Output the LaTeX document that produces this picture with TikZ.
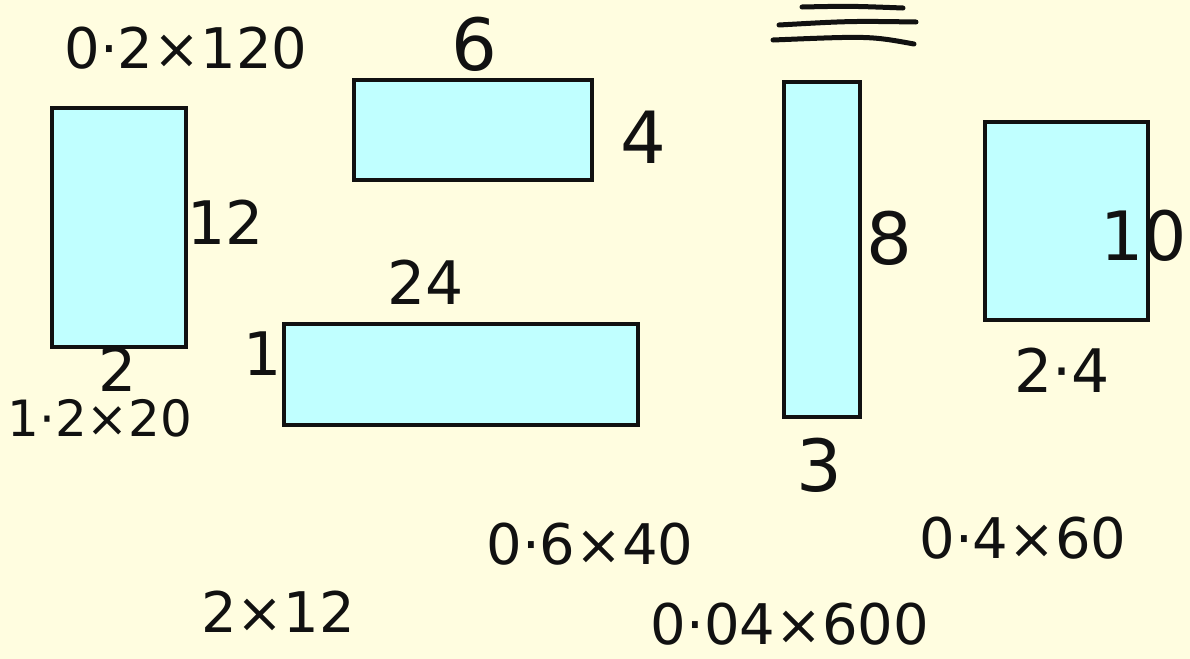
\documentclass[tikz,border=0pt]{standalone}
\usepackage{fontspec}
\setmainfont{DejaVu Sans}
\usepackage{tikz}
\usetikzlibrary{positioning}
\usepackage{xcolor}
\definecolor{paperyellow}{HTML}{FFFDE0}
\definecolor{sheetcyan}{HTML}{C0FFFF}
\definecolor{inkblack}{HTML}{111111}
\tikzset{
  panel/.style={draw=inkblack, line width=1.75pt, fill=sheetcyan, inner sep=0pt},
  side/.style={text=inkblack, inner sep=0pt, font=\fontsize{30}{32}\selectfont},
  bigside/.style={side, font=\fontsize{36}{38}\selectfont},
  product/.style={side, font=\fontsize{28}{30}\selectfont},
  stroke/.style={draw=inkblack, line width=2.5pt, line cap=round},
}

\begin{document}
\begin{tikzpicture}[x=0.5pt, y=-0.5pt]
\fill[paperyellow] (0,0) rectangle (1190,659);
\useasboundingbox (0,0) rectangle (1190,659);

% the five rectangles
\node[panel, minimum width=67pt, minimum height=119.5pt] (tall) at (119,227.5) {};
\node[panel, minimum width=119pt, minimum height=50pt] (wide) at (473,130) {};
\node[panel, minimum width=177pt, minimum height=50.5pt] (long) at (461,374.5) {};
\node[panel, minimum width=38pt, minimum height=167.5pt] (thin) at (822,249.5) {};
\node[panel, minimum width=81.5pt, minimum height=99pt] (square) at (1066.5,221) {};

% side lengths
\node[side] (tallh) at (226,222) {12};
\node[side] (tallw) at (118,369) {2};
\node[bigside] (wideh) at (643,137) {4};
\node[bigside] (widew) at (474,44) {6};
\node[side] (longw) at (426,282) {24};
\node[side] (longh) at (263,354) {1};
\node[bigside] (thinh) at (889,238) {8};
\node[bigside] (thinw) at (819,465) {3};
\node[bigside, font=\fontsize{34}{36}\selectfont] (squareh) at (1144,236) {10};
\node[side] (squarew) at (1062,370) {2·4};

% products
\node[product] (ptall) at (186,48) {0·2×120};
\node[product, font=\fontsize{25}{27}\selectfont] (ptallb) at (100,418) {1·2×20};
\node[product] (plong) at (590,544) {0·6×40};
\node[product] (psquare) at (1023,538) {0·4×60};
\node[product] (pwide) at (278,612) {2×12};
\node[product] (pthin) at (790,624) {0·04×600};

% equals-like strokes
\draw[stroke] (802,7) .. controls (850,6) .. (903,8);
\draw[stroke] (779,25) .. controls (850,21) .. (916,22);
\draw[stroke] (773,40) .. controls (870,36) .. (914,44);
\end{tikzpicture}
\end{document}
